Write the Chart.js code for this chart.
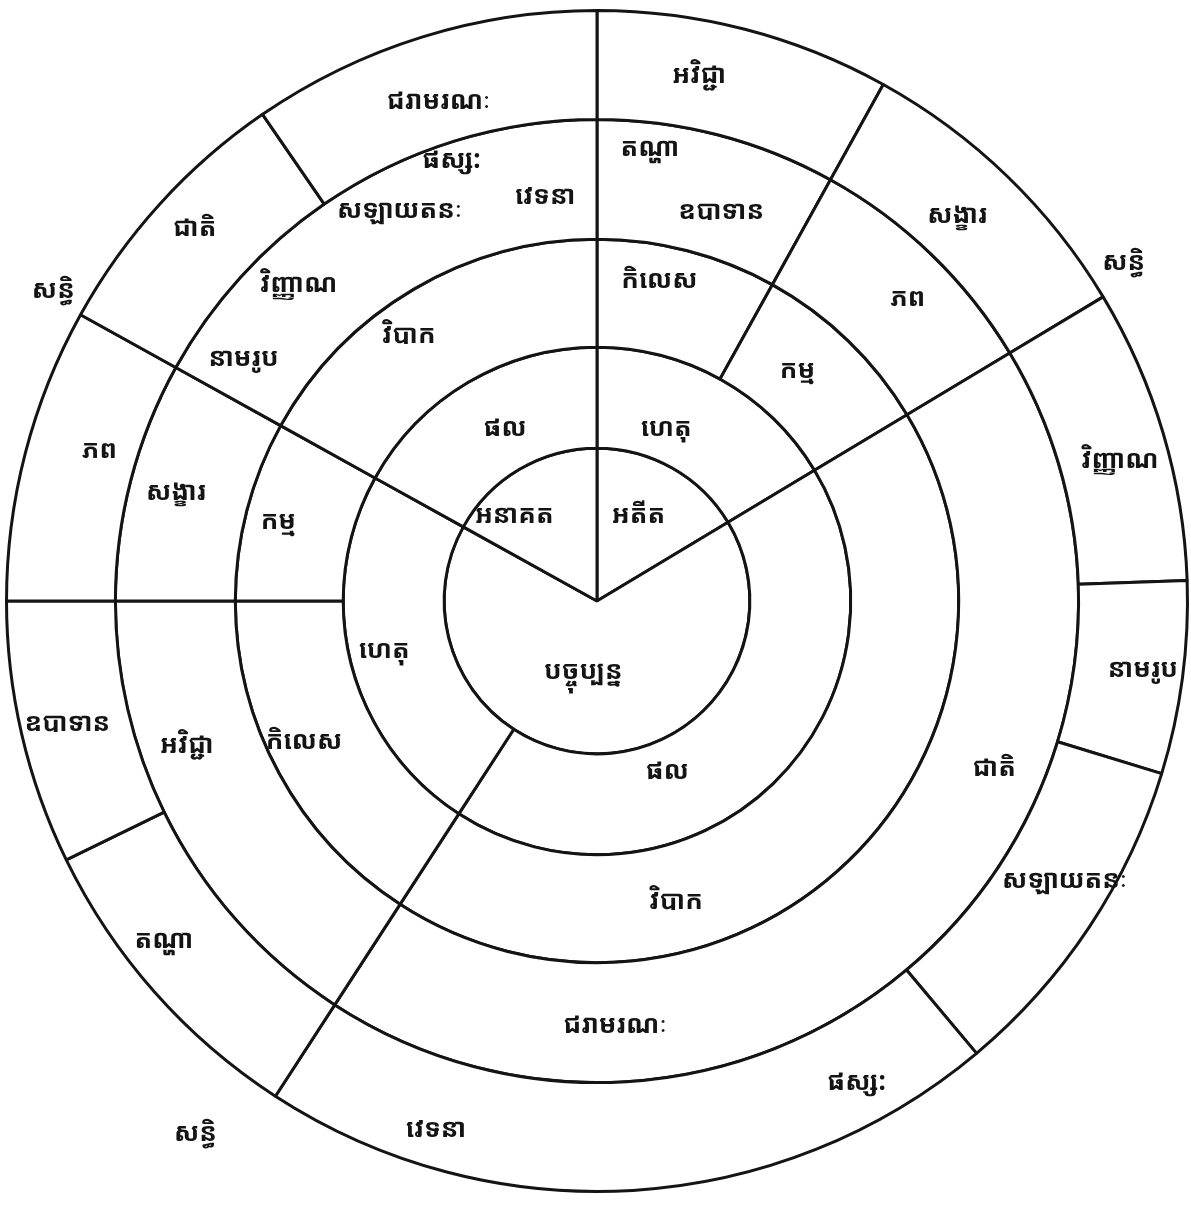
<!DOCTYPE html>
<html lang="km">
<head>
<meta charset="utf-8">
<title>បដិច្ចសមុប្បាទ</title>
<script src="https://cdn.jsdelivr.net/npm/chart.js@4.4.1/dist/chart.umd.min.js"></script>
<style>
  html, body { margin: 0; padding: 0; background: #fff; }
  #wrap { width: 1191px; height: 1208px; }
</style>
</head>
<body>
<div id="wrap"><canvas id="wheel" width="1191" height="1208"></canvas></div>
<script>
// ── Data: each ring is a list of sectors, spans in degrees clockwise from the top ──

// ring 1 (centre): the three times
const KAL_NAMES = [["អតីត"], ["បច្ចុប្បន្ន"], ["អនាគត"]];
const KAL_SPANS = [59, 240, 61];

// ring 2: cause / result
const HETU_NAMES = [["ហេតុ"], ["ផល"], ["ហេតុ"], ["ផល"]];
const HETU_SPANS = [59, 154, 86, 61];

// ring 3: defilement / kamma / result
const VATTA_NAMES = [["កិលេស"], ["កម្ម"], ["វិបាក"], ["កិលេស"], ["កម្ម"], ["វិបាក"]];
const VATTA_SPANS = [29, 30, 154, 57, 29, 61];

// ring 4: the twelve links grouped
const ANGA_NAMES = [
    ["តណ្ហា", "ឧបាទាន"],
    ["ភព"],
    ["ជាតិ", "ជរាមរណៈ"],
    ["អវិជ្ជា"],
    ["សង្ខារ"],
    ["វិញ្ញាណ", "នាមរូប", "សឡាយតនៈ", "ផស្ស:", "វេទនា"],
];
const ANGA_SPANS = [29, 30, 154, 57, 29, 61];

// ring 5 (outer): the twelve links one by one
const NIDANA_NAMES = [
    ["អវិជ្ជា"], ["សង្ខារ"], ["វិញ្ញាណ"], ["នាមរូប"], ["សឡាយតនៈ"],
    ["ផស្ស:", "វេទនា"], ["តណ្ហា"], ["ឧបាទាន"], ["ភព"], ["ជាតិ"], ["ជរាមរណៈ"],
];
const NIDANA_SPANS = [29, 30, 29, 19, 33, 73, 31, 26, 29, 26.5, 34.5];

const SANDHI = "សន្ធិ";

// ── Layout: where each label sits inside its sector [fraction of sweep, fraction of ring depth] ──

const KAL_SPOTS = [[0.44, 0.62], [0.55, 0.47], [0.28, 0.78]];
const HETU_SPOTS = [[0.37, 0.33], [0.64, 0.31], [0.51, 0.65], [0.54, 0.42]];
const VATTA_SPOTS = [[0.38, 0.67], [0.40, 0.48], [0.69, 0.53], [0.55, 0.66], [0.48, 0.69], [0.42, 0.66]];
const ANGA_SPOTS = [
    [0.23, 0.78], [0.61, 0.39],
    [0.56, 0.60],
    [0.35, 0.58], [0.77, 0.53],
    [0.66, 0.61],
    [0.50, 0.61],
    [0.29, 0.61], [0.09, 0.56], [0.56, 0.63], [0.70, 0.85], [0.88, 0.38],
];
const NIDANA_SPOTS = [
    [0.38, 0.49], [0.47, 0.42], [0.55, 0.55], [0.48, 0.63], [0.42, 0.58],
    [0.16, 0.60], [0.78, 0.65], [0.61, 0.63], [0.50, 0.57], [0.58, 0.35],
    [0.52, 0.61], [0.49, 0.39],
];
// sandhi labels sit just outside the wheel, next to a junction
// [dataset index, arc index (its end angle), angle offset in degrees, radius factor]
const SANDHI_SPOTS = [[4, 0, -1.7, 1.06], [4, 1, 0.7, 1.06], [3, 1, 4, 1.13]];

const INK = "#141414";
const FONT = "bold 26px 'Noto Sans Khmer', 'Noto Serif Khmer', 'Khmer OS', 'Khmer OS System', Hanuman, 'DejaVu Sans', sans-serif";

// outer ring first: Chart.js draws dataset 0 outermost
const RINGS = [
    { names: NIDANA_NAMES, spans: NIDANA_SPANS, spots: NIDANA_SPOTS, weight: 109 },
    { names: ANGA_NAMES, spans: ANGA_SPANS, spots: ANGA_SPOTS, weight: 120 },
    { names: VATTA_NAMES, spans: VATTA_SPANS, spots: VATTA_SPOTS, weight: 108 },
    { names: HETU_NAMES, spans: HETU_SPANS, spots: HETU_SPOTS, weight: 101 },
    { names: KAL_NAMES, spans: KAL_SPANS, spots: KAL_SPOTS, weight: 153 },
];

// ── Label plugin ──

const wheelLabels = {
    id: "wheelLabels",
    afterDatasetsDraw(chart) {
        const ctx = chart.ctx;
        ctx.save();
        ctx.fillStyle = INK;
        ctx.font = FONT;
        ctx.textAlign = "center";
        ctx.textBaseline = "middle";

        RINGS.forEach((ring, i) => {
            const arcs = chart.getDatasetMeta(i).data;
            let k = 0;
            arcs.forEach((arc, j) => {
                const p = arc.getProps(["x", "y", "startAngle", "endAngle", "innerRadius", "outerRadius"], true);
                for (const name of ring.names[j]) {
                    const [t, f] = ring.spots[k++];
                    const a = p.startAngle + t * (p.endAngle - p.startAngle);
                    const r = p.innerRadius + f * (p.outerRadius - p.innerRadius);
                    ctx.fillText(name, p.x + r * Math.cos(a), p.y + r * Math.sin(a));
                }
            });
        });

        const rim = chart.getDatasetMeta(0).data[0].getProps(["outerRadius"], true).outerRadius;
        for (const [ds, idx, da, rf] of SANDHI_SPOTS) {
            const p = chart.getDatasetMeta(ds).data[idx].getProps(["x", "y", "endAngle"], true);
            const a = p.endAngle + da * Math.PI / 180;
            ctx.fillText(SANDHI, p.x + rim * rf * Math.cos(a), p.y + rim * rf * Math.sin(a));
        }
        ctx.restore();
    },
};

// ── Chart ──

new Chart(document.getElementById("wheel"), {
    type: "doughnut",
    data: {
        labels: NIDANA_NAMES.map((n) => n.join(" ")),
        datasets: RINGS.map((ring) => ({
            data: ring.spans,
            weight: ring.weight,
            backgroundColor: "#ffffff",
            borderColor: INK,
            borderWidth: 3,
            hoverOffset: 0,
        })),
    },
    options: {
        responsive: false,
        animation: false,
        events: [],
        cutout: 0,
        rotation: 0,
        circumference: 360,
        layout: { padding: { left: 5, right: 2, top: 0, bottom: 6 } },
        plugins: {
            legend: { display: false },
            tooltip: { enabled: false },
        },
    },
    plugins: [wheelLabels],
});
</script>
</body>
</html>
